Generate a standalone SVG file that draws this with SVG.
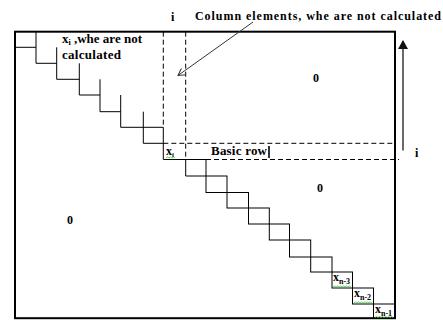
<svg xmlns="http://www.w3.org/2000/svg" width="443" height="320" viewBox="0 0 443 320">
<style>
.t{font-family:'Liberation Serif','DejaVu Serif','Times New Roman',serif;font-weight:bold;fill:#000}
.ln{stroke:#000;stroke-width:1;fill:none}
.dash{stroke:#000;stroke-width:1;fill:none;stroke-dasharray:5,3}
.cell{stroke:#000;stroke-width:1;fill:none}
.sq{stroke:#3c3;stroke-width:0.8;fill:none}
</style>
<defs>
<marker id="open" markerWidth="8" markerHeight="8" refX="7" refY="4" orient="auto" markerUnits="userSpaceOnUse">
<path d="M0,0 L7,4 L0,8" fill="none" stroke="#333" stroke-width="1"/>
</marker>
<marker id="solid" markerWidth="9" markerHeight="10" refX="8" refY="5" orient="auto" markerUnits="userSpaceOnUse">
<path d="M0,0 L9,5 L0,10 Z" fill="#111"/>
</marker>
</defs>

<g id="matrix">
<rect x="15" y="31.7" width="380" height="286.5" fill="#fff" stroke="#000" stroke-width="2"/>
</g>

<g id="upper-staircase">
<path class="ln" d="M15,47.3 H36 M36,31.7 V63.3 M36,63.3 H56.7 M56.7,47.3 V79.3 M56.7,79.3 H79.3 M79.3,63.3 V95 M79.3,95 H100 M100,79.3 V111.7 M100,111.7 H120.7 M120.7,95 V127.3 M120.7,127.3 H163.3 M143.3,111.7 V143.3 M143.3,143.3 H163.3 M163.3,127.3 V159.5 M163.3,159.5 H206"/>
</g>

<g id="lower-staircase">
<path class="ln" d="M185.7,159.5 V176 H206 V159.5"/>
<rect class="cell" x="206" y="176" width="21" height="16.5"/>
<rect class="cell" x="227" y="192.5" width="21.5" height="15.5"/>
<rect class="cell" x="248.5" y="208" width="20.8" height="16"/>
<rect class="cell" x="269.3" y="224" width="20.2" height="16"/>
<rect class="cell" x="289.5" y="240" width="21.2" height="17"/>
<rect class="cell" x="310.7" y="257" width="21.3" height="15"/>
<rect class="cell" x="332" y="272" width="20.5" height="16"/>
<rect class="cell" x="352.5" y="288" width="21" height="16"/>
<rect class="cell" x="373.5" y="304" width="21.5" height="14.2"/>
</g>

<g id="connectors">
<path class="dash" d="M163.3,31.7 V127.3"/>
<path class="dash" d="M185.7,31.7 V159.5"/>
<path class="dash" d="M163.3,143.3 H393"/>
<path class="dash" d="M206,159.5 H399"/>
<line x1="253" y1="22" x2="178" y2="75.5" stroke="#333" stroke-width="1" marker-end="url(#open)"/>
<line x1="403" y1="150.5" x2="403" y2="41" stroke="#444" stroke-width="1.6" marker-end="url(#solid)"/>
<line x1="269" y1="146" x2="269" y2="158" stroke="#000" stroke-width="1.6"/>
</g>

<g id="labels">
<text class="t" x="171" y="21" font-size="12">i</text>
<text class="t" x="195" y="20" font-size="12" textLength="246" lengthAdjust="spacing">Column elements, whe are not calculated</text>
<text class="t" x="62" y="43" font-size="13">x<tspan font-size="8" dy="1.5">i</tspan><tspan dy="-1.5"> ,whe are not</tspan></text>
<text class="t" x="62" y="59" font-size="13" textLength="59" lengthAdjust="spacing">calculated</text>
<text class="t" x="313" y="82" font-size="12">0</text>
<text class="t" x="317" y="192" font-size="12">0</text>
<text class="t" x="67" y="224" font-size="12">0</text>
<text class="t" x="211" y="155" font-size="13" textLength="56" lengthAdjust="spacing">Basic row</text>
<text class="t" x="415" y="157" font-size="12">i</text>
<text class="t" x="166" y="155" font-size="12">x<tspan font-size="7" dy="2">i</tspan></text>
<text class="t" x="333" y="281" font-size="12">x<tspan font-size="8" dy="3">n-3</tspan></text>
<text class="t" x="354" y="297" font-size="12">x<tspan font-size="8" dy="3">n-2</tspan></text>
<text class="t" x="375" y="313" font-size="12">x<tspan font-size="8" dy="3">n-1</tspan></text>
</g>

<g id="spellcheck">
<path class="sq" d="M166,158 l1.5,-1 l1.5,1 l1.5,-1 l1.5,1 l1.5,-1 l1.5,1"/>
<path class="sq" d="M333,287 l1.5,-1 l1.5,1 l1.5,-1 l1.5,1 l1.5,-1 l1.5,1 l1.5,-1 l1.5,1 l1.5,-1 l1.5,1 l1.5,-1 l1.5,1"/>
<path class="sq" d="M354,303 l1.5,-1 l1.5,1 l1.5,-1 l1.5,1 l1.5,-1 l1.5,1 l1.5,-1 l1.5,1 l1.5,-1 l1.5,1 l1.5,-1 l1.5,1"/>
<path class="sq" d="M375,317.5 l1.5,-1 l1.5,1 l1.5,-1 l1.5,1 l1.5,-1 l1.5,1 l1.5,-1 l1.5,1 l1.5,-1 l1.5,1 l1.5,-1 l1.5,1"/>
</g>
</svg>
